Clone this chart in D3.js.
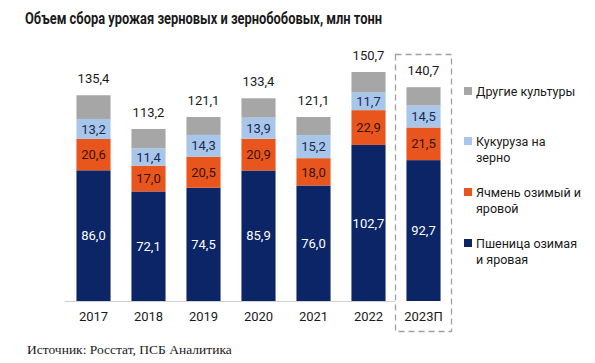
<!DOCTYPE html>
<html>
<head>
<meta charset="utf-8">
<script src="https://cdn.jsdelivr.net/npm/d3@7"></script>
<style>
  body { margin: 0; background: #fff; }
  svg { display: block; }
</style>
</head>
<body>
<svg id="chart" width="595" height="363"></svg>
<script>
const years = ["2017", "2018", "2019", "2020", "2021", "2022", "2023П"];
const wheat = [86.0, 72.1, 74.5, 85.9, 76.0, 102.7, 92.7];
const barley = [20.6, 17.0, 20.5, 20.9, 18.0, 22.9, 21.5];
const corn = [13.2, 11.4, 14.3, 13.9, 15.2, 11.7, 14.5];
const other = [15.6, 12.7, 11.8, 12.7, 11.9, 13.4, 12.0];
const totals = [135.4, 113.2, 121.1, 133.4, 121.1, 150.7, 140.7];

const seriesNames = ["Пшеница озимая и яровая", "Ячмень озимый и яровой", "Кукуруза на зерно", "Другие культуры"];
const colors = ["#0b2566", "#e8561e", "#a8c6ea", "#a6a6a6"];
const labelColors = ["#ffffff", "#3a1208", "#1b2a55", null];

const svg = d3.select("#chart");
const fmt = v => v.toFixed(1).replace(".", ",");

const margin = {left: 66, top: 40, baseline: 301};

const x = d3.scaleBand()
    .domain(years)
    .range([66, 451])
    .paddingInner(0.38)
    .paddingOuter(0.19);

const y = d3.scaleLinear()
    .domain([0, 150.7])
    .range([margin.baseline, 72]);

const table = years.map((yr, i) => ({year: yr, s0: wheat[i], s1: barley[i], s2: corn[i], s3: other[i]}));
const stack = d3.stack().keys(["s0", "s1", "s2", "s3"])(table);

// title
svg.append("text")
    .attr("x", 25)
    .attr("y", 24)
    .attr("font-family", "Roboto")
    .attr("font-weight", "bold")
    .attr("font-size", 16)
    .attr("fill", "#1a1a1a")
    .attr("textLength", 357)
    .attr("lengthAdjust", "spacingAndGlyphs")
    .text("Объем сбора урожая зерновых и зернобобовых, млн тонн");

// bars
const layers = svg.append("g").selectAll("g")
    .data(stack)
    .join("g")
    .attr("fill", (d, i) => colors[i]);

layers.selectAll("rect")
    .data(d => d)
    .join("rect")
    .attr("x", d => x(d.data.year))
    .attr("y", d => y(d[1]))
    .attr("height", d => y(d[0]) - y(d[1]))
    .attr("width", x.bandwidth());

// segment labels
stack.forEach((layer, i) => {
    if (!labelColors[i]) return;
    svg.append("g").selectAll("text")
        .data(layer)
        .join("text")
        .attr("x", d => x(d.data.year) + x.bandwidth() / 2)
        .attr("y", d => (y(d[0]) + y(d[1])) / 2)
        .attr("dy", "0.36em")
        .attr("text-anchor", "middle")
        .attr("font-family", "Roboto")
        .attr("font-size", 13)
        .attr("fill", labelColors[i])
        .text(d => fmt(d[1] - d[0]));
});

// totals
svg.append("g").selectAll("text")
    .data(totals)
    .join("text")
    .attr("x", (d, i) => x(years[i]) + x.bandwidth() / 2)
    .attr("y", d => y(d) - 12)
    .attr("text-anchor", "middle")
    .attr("font-family", "Roboto")
    .attr("font-size", 13)
    .attr("fill", "#1a1a1a")
    .text(d => fmt(d));

// axis
const xAxis = svg.append("g")
    .attr("transform", `translate(0, ${margin.baseline})`)
    .call(d3.axisBottom(x).tickSize(0).tickPadding(11));
xAxis.select(".domain").attr("stroke", "#d0d0d0").attr("d", "M65,0.5H395");
xAxis.selectAll("text")
    .attr("font-family", "Roboto")
    .attr("font-size", 13)
    .attr("fill", "#1a1a1a");

// dashed box around forecast
svg.append("rect")
    .attr("x", 395.5)
    .attr("y", 54.5)
    .attr("width", 56)
    .attr("height", 277)
    .attr("fill", "none")
    .attr("stroke", "#a0a0a0")
    .attr("stroke-width", 1.3)
    .attr("stroke-dasharray", "6,4");

// legend
const legendItems = [
    {i: 3, lines: ["Другие культуры"], y: 91},
    {i: 2, lines: ["Кукуруза на", "зерно"], y: 141},
    {i: 1, lines: ["Ячмень озимый и", "яровой"], y: 192},
    {i: 0, lines: ["Пшеница озимая", "и яровая"], y: 243}
];
const legend = svg.append("g").selectAll("g")
    .data(legendItems)
    .join("g")
    .attr("transform", d => `translate(464, ${d.y})`);
legend.append("rect")
    .attr("x", 0)
    .attr("y", -4)
    .attr("width", 8)
    .attr("height", 8)
    .attr("fill", d => colors[d.i]);
legend.append("text")
    .attr("font-family", "Roboto")
    .attr("font-size", 12.5)
    .attr("fill", "#1a1a1a")
    .selectAll("tspan")
    .data(d => d.lines)
    .join("tspan")
    .attr("x", 12)
    .attr("y", (d, k) => k * 16)
    .attr("dy", "0.36em")
    .text(d => d);

// source
svg.append("text")
    .attr("x", 27)
    .attr("y", 354)
    .attr("font-family", "Liberation Serif")
    .attr("font-size", 13.5)
    .attr("fill", "#1a1a1a")
    .text("Источник: Росстат, ПСБ Аналитика");
</script>
</body>
</html>
